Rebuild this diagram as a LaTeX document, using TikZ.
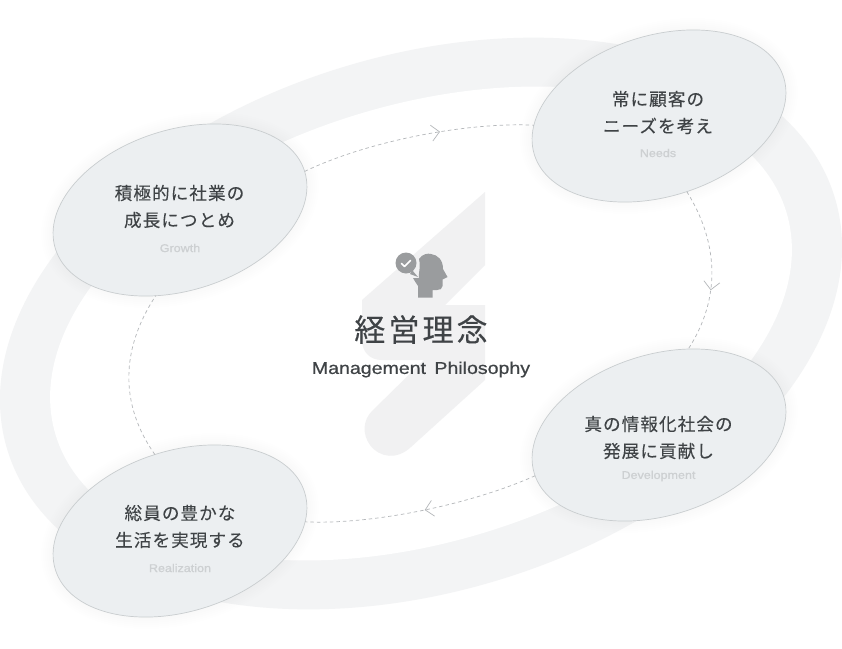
\documentclass[tikz,border=0pt]{standalone}
\usepackage{fontspec}
\usetikzlibrary{shapes.geometric,arrows.meta,decorations.markings}
\setmainfont{Liberation Sans}
\newfontfamily\jpl[LetterSpace=6,FakeBold=0.12]{Noto Sans CJK JP}
\newfontfamily\jpt[LetterSpace=10,FakeBold=0.2]{Noto Sans CJK JP}
\newfontfamily\lat[FakeBold=0.7,FakeStretch=1.15]{Liberation Sans}
\newfontfamily\latb[FakeBold=1.0,FakeStretch=1.12]{Liberation Sans}
\definecolor{ringc}{HTML}{F3F4F5}
\definecolor{logoc}{HTML}{F1F1F2}
\definecolor{blob}{HTML}{ECEFF1}
\definecolor{blobline}{HTML}{C9CDCF}
\definecolor{ink}{HTML}{3F4346}
\definecolor{faint}{HTML}{CDD0D2}
\definecolor{dashc}{HTML}{B4B7BA}
\definecolor{iconc}{HTML}{9A9C9E}
\tikzset{
  x=1pt,y=-1pt,
  big/.style={ellipse,inner sep=0pt,outer sep=0pt,rotate=17,minimum width=#1},
  halo/.style={ellipse,inner sep=0pt,outer sep=0pt,rotate=17.2,minimum width=261pt+#1,minimum height=161pt+#1,fill=black,fill opacity=0.002},
  blobnode/.style={ellipse,inner sep=0pt,outer sep=0pt,rotate=17.2,minimum width=261pt,minimum height=161pt,fill=blob,draw=blobline,line width=0.7pt},
  jtext/.style={font=\jpl\fontsize{17.6}{27}\selectfont,text=ink,align=center,inner sep=0pt},
  sub/.style={font=\latb\fontsize{11.2}{13}\selectfont,text=faint,inner sep=0pt},
  link/.style={draw=dashc,line width=0.7pt,dash pattern=on 3.5pt off 3pt},
  chev/.style={postaction={decorate,decoration={markings,mark=at position #1 with {\arrow[solid,line width=0.7pt]{Straight Barb[length=8pt,width=16pt]}}}}}
}
\begin{document}
\begin{tikzpicture}
\useasboundingbox (0,0) rectangle (842,648);
\fill[white] (0,0) rectangle (842,648);
\node[big=865pt,minimum height=536pt,fill=ringc] (ringout) at (421,323.5) {};
\node[big=764pt,minimum height=437pt,fill=white] (ringin) at (421,323.5) {};
% logo
\fill[logoc] (485,192) -- (485,265) -- (445,305) -- (485,305) -- (485,380)
  -- (411,447) .. controls (397,460) and (380,458) .. (370,445)
  .. controls (362,434) and (363,420) .. (372,411) -- (424,360) -- (382,360)
  .. controls (370,360) and (362,352) .. (362,340) -- (362,300) -- cycle;
% halos
\foreach \p in {(659,116),(659,435),(180,210),(180,531)}{
  \foreach \g in {4,8,12,16,20,24}{\node[halo=\g pt] at \p {};}
}
\node[blobnode] (needs) at (659,116) {};
\node[blobnode] (dev) at (659,435) {};
\node[blobnode] (growth) at (180,210) {};
\node[blobnode] (reali) at (180,531) {};
% connectors
\draw[link,chev=0.6] (growth.0) .. controls (370,140) and (470,122) .. (needs.167);
\draw[link,chev=0.62] (needs.-87) .. controls (720,245) and (720,300) .. (dev.54);
\draw[link,chev=0.49] (dev.181) .. controls (470,505) and (370,525) .. (reali.-13);
\draw[link] (reali.91) .. controls (120,405) and (120,350) .. (growth.-123);
% texts
\node[jtext] (t1) at (658,112.5) {常に顧客の\\ニーズを考え};
\node[sub] (s1) at (658,153) {Needs};
\node[jtext] (t2) at (179.5,206.5) {積極的に社業の\\成長につとめ};
\node[sub] (s2) at (180,248) {Growth};
\node[jtext] (t3) at (658.5,437.5) {真の情報化社会の\\発展に貢献し};
\node[sub] (s3) at (658.5,476) {Development};
\node[jtext] (t4) at (180,526.5) {総員の豊かな\\生活を実現する};
\node[sub] (s4) at (180,568) {Realization};
\node[font=\jpt\fontsize{31}{36}\selectfont,text=ink,inner sep=0pt] (title) at (421,329.5) {経営理念};
\node[font=\lat\fontsize{17}{20}\selectfont,text=ink,inner sep=0pt] (subtitle) at (421,369.5) {Management\hspace{3pt} Philosophy};
% icon
\fill[iconc] (406,263) circle (10.5);
\fill[iconc] (412,270) -- (418,277) -- (410,274) -- cycle;
\draw[white,line width=1.6pt,line cap=round,line join=round] (401.5,263.5) -- (404.5,266.5) -- (410.5,260.5);
\fill[iconc] (419,259) .. controls (422,254) and (428,253) .. (431,254)
  .. controls (438,255) and (443,260) .. (443,269) -- (447.5,277) -- (442.5,279.5) -- (442.5,286)
  .. controls (442.5,289) and (440,290) .. (437,290) -- (432.5,290) -- (432.5,297.5) -- (418,297.5) -- (418,286)
  .. controls (416,283) and (414,280) .. (413,278) -- (419,278) .. controls (418,274) and (421,268) .. (419,259) -- cycle;
\end{tikzpicture}
\end{document}
